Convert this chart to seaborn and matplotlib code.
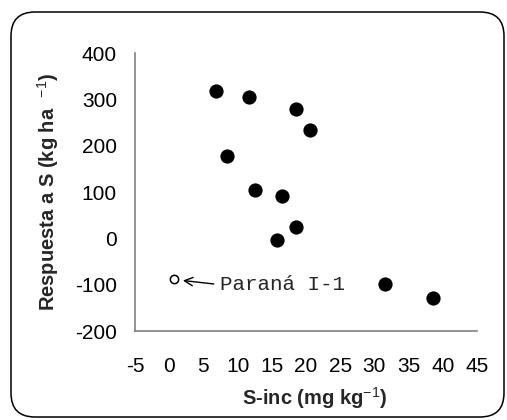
import matplotlib
matplotlib.use("Agg")
import matplotlib.pyplot as plt
from matplotlib.patches import FancyBboxPatch
from matplotlib.transforms import IdentityTransform
import seaborn as sns
import pandas as pd

# Data
s_inc = [6.8, 11.6, 18.6, 20.6, 8.5, 12.5, 16.5, 18.6, 15.7, 31.6, 38.5]
respuesta = [318, 305, 279, 234, 178, 104, 92, 25, -4, -99, -128]
outlier_x = [0.7]
outlier_y = [-88]
outlier_label = "Paraná I-1"
x_ticks = [-5, 0, 5, 10, 15, 20, 25, 30, 35, 40, 45]
y_ticks = [-200, -100, 0, 100, 200, 300, 400]

df = pd.DataFrame({"S-inc": s_inc, "Respuesta": respuesta})

sns.set_style("white")
plt.rcParams["font.family"] = ["Liberation Sans", "DejaVu Sans"]
plt.rcParams["axes.unicode_minus"] = False
plt.rcParams["mathtext.fontset"] = "custom"
plt.rcParams["mathtext.rm"] = "Liberation Sans"
plt.rcParams["mathtext.it"] = "Liberation Sans"
plt.rcParams["mathtext.bf"] = "Liberation Sans:bold"

fig = plt.figure(figsize=(5.07, 4.20), dpi=100)
ax = fig.add_axes([0.2663, 0.2119, 0.9408 - 0.2663, 0.8738 - 0.2119])

sns.scatterplot(data=df, x="S-inc", y="Respuesta", ax=ax, s=105,
                color="black", edgecolor="black", linewidth=0, legend=False)
ax.plot(outlier_x, outlier_y, marker="o", markersize=6, markerfacecolor="white",
        markeredgecolor="black", markeredgewidth=1.1, linestyle="none")

ax.annotate(outlier_label, xy=(outlier_x[0] + 1.3, outlier_y[0] - 3),
            xytext=(7.4, -100), ha="left", va="center",
            fontsize=15, family=["Liberation Mono", "DejaVu Sans Mono"],
            arrowprops=dict(arrowstyle="->", color="black", lw=1.0,
                            relpos=(0, 0.5), shrinkA=2, shrinkB=0,
                            mutation_scale=15))

ax.set_xlim(-5, 45)
ax.set_ylim(-200, 400)
ax.set_xticks(x_ticks)
ax.set_yticks(y_ticks)
ax.tick_params(axis="both", which="major", direction="out", length=5, width=1,
               color="#808080", labelsize=15, labelcolor="black")
ax.tick_params(axis="y", pad=8)
ax.tick_params(axis="x", pad=14)
for side in ["top", "right"]:
    ax.spines[side].set_visible(False)
for side in ["left", "bottom"]:
    ax.spines[side].set_color("#808080")
    ax.spines[side].set_linewidth(1.2)

ax.set_xlabel(r"S-inc (mg kg$^{\mathrm{-1}}$)", fontsize=14.5, fontweight="bold")
ax.xaxis.set_label_coords(0.525, -0.195)
ax.set_ylabel(r"Respuesta a S (kg ha  $^{\mathrm{-1}}$)", fontsize=14.5, fontweight="bold", labelpad=10)

frame = FancyBboxPatch((11, 3), 493, 405, boxstyle="round,pad=0,rounding_size=24",
                       transform=IdentityTransform(), facecolor="none",
                       edgecolor="black", linewidth=1.1)
fig.patches.append(frame)

fig.savefig("out.png", dpi=100)
